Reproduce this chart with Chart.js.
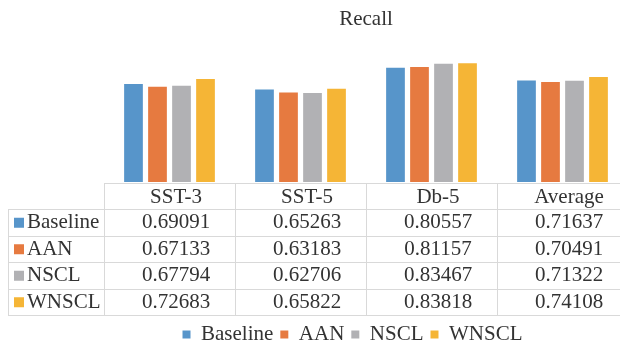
<!DOCTYPE html>
<html>
<head>
<meta charset="utf-8">
<title>Recall</title>
<script src="https://cdn.jsdelivr.net/npm/chart.js@4/dist/chart.umd.min.js"></script>
<style>
  html, body { margin: 0; padding: 0; background: #fff; }
  #frame { width: 620px; height: 348px; overflow: hidden; position: relative; }
  #holder { width: 628px; height: 355px; position: absolute; left: 0; top: 0; }
</style>
</head>
<body>
<div id="frame">
  <div id="holder"><canvas id="chartRecall"></canvas></div>
</div>
<script>
// ============ DATA ============
const CATEGORIES = ['SST-3', 'SST-5', 'Db-5', 'Average'];
const SERIES_NAMES = ['Baseline', 'AAN', 'NSCL', 'WNSCL'];
const BASELINE = [0.69091, 0.65263, 0.80557, 0.71637];
const AAN = [0.67133, 0.63183, 0.81157, 0.70491];
const NSCL = [0.67794, 0.62706, 0.83467, 0.71322];
const WNSCL = [0.72683, 0.65822, 0.83818, 0.74108];
const Y_MIN = 0;
const Y_MAX = 1;

(function () {
  'use strict';

  // Office-ish palette
  const BLUE = '#5795CA';
  const ORANGE = '#E67A40';
  const GRAY = '#B1B1B4';
  const YELLOW = '#F5B536';
  const INK = '#333333';
  const RULE = '#D9D9D9';
  const FONT = "'Liberation Serif', 'Times New Roman', serif";

  const seriesValues = [BASELINE, AAN, NSCL, WNSCL];
  const seriesColors = [BLUE, ORANGE, GRAY, YELLOW];

  // ============ DATA TABLE (drawn in the x axis space) ============
  const dataTable = {
    id: 'dataTable',
    afterDraw: function (chart) {
      const ctx = chart.ctx;
      const area = chart.chartArea;
      const xs = chart.scales.x;
      const colW = (area.right - area.left) / CATEGORIES.length;
      const top = area.bottom + 1;
      const headH = 26;
      const rowH = 26.5;
      const labelLeft = 8;
      const bottom = top + headH + rowH * SERIES_NAMES.length;

      ctx.save();
      ctx.strokeStyle = RULE;
      ctx.lineWidth = 1;

      // horizontal rules
      ctx.beginPath();
      ctx.moveTo(area.left, top + 0.5);
      ctx.lineTo(area.right, top + 0.5);
      for (let r = 0; r <= SERIES_NAMES.length; r++) {
        const y = Math.round(top + headH + r * rowH) + 0.5;
        ctx.moveTo(labelLeft, y);
        ctx.lineTo(area.right, y);
      }
      // vertical rules
      for (let c = 0; c <= CATEGORIES.length; c++) {
        const x = Math.round(area.left + c * colW) + 0.5;
        ctx.moveTo(x, top);
        ctx.lineTo(x, bottom);
      }
      ctx.moveTo(labelLeft + 0.5, top + headH);
      ctx.lineTo(labelLeft + 0.5, bottom);
      ctx.stroke();

      ctx.fillStyle = INK;
      ctx.font = '21px ' + FONT;
      ctx.textBaseline = 'middle';

      // header
      ctx.textAlign = 'center';
      CATEGORIES.forEach(function (cat, i) {
        ctx.fillText(cat, xs.getPixelForValue(i) + 6.5, top + headH / 2 + 1);
      });

      // rows
      SERIES_NAMES.forEach(function (name, r) {
        const yMid = top + headH + r * rowH + rowH / 2 + 0.5;
        ctx.fillStyle = seriesColors[r];
        ctx.fillRect(14, yMid - 5, 10, 10);
        ctx.fillStyle = INK;
        ctx.textAlign = 'left';
        ctx.fillText(name, 27, yMid);
        ctx.textAlign = 'center';
        seriesValues[r].forEach(function (v, i) {
          ctx.fillText(v.toFixed(5), xs.getPixelForValue(i) + 6.5, yMid);
        });
      });
      ctx.restore();
    }
  };

  new Chart(document.getElementById('chartRecall'), {
    type: 'bar',
    data: {
      labels: CATEGORIES,
      datasets: SERIES_NAMES.map(function (name, i) {
        return {
          label: name,
          data: seriesValues[i],
          backgroundColor: seriesColors[i],
          borderWidth: 0,
          categoryPercentage: 0.733,
          barPercentage: 0.78
        };
      })
    },
    options: {
      responsive: true,
      maintainAspectRatio: false,
      animation: false,
      layout: { padding: { left: 77, right: 0, top: 0, bottom: 0 } },
      plugins: {
        title: {
          display: true,
          fullSize: false,
          text: 'Recall',
          color: INK,
          font: { family: FONT, size: 21, weight: 'normal' },
          padding: { top: 7, bottom: 8 }
        },
        legend: {
          position: 'bottom',
          labels: {
            color: INK,
            font: { family: FONT, size: 21 },
            boxWidth: 8,
            boxHeight: 8,
            padding: 7
          }
        },
        tooltip: { enabled: false }
      },
      scales: {
        x: {
          grid: { display: false },
          border: { display: false },
          ticks: { display: false },
          afterFit: function (axis) { axis.height = 135; }
        },
        y: {
          min: Y_MIN,
          max: Y_MAX,
          grid: { display: false },
          border: { display: false },
          ticks: { display: false },
          afterFit: function (axis) { axis.width = 27; }
        }
      }
    },
    plugins: [dataTable]
  });
})();
</script>
</body>
</html>
